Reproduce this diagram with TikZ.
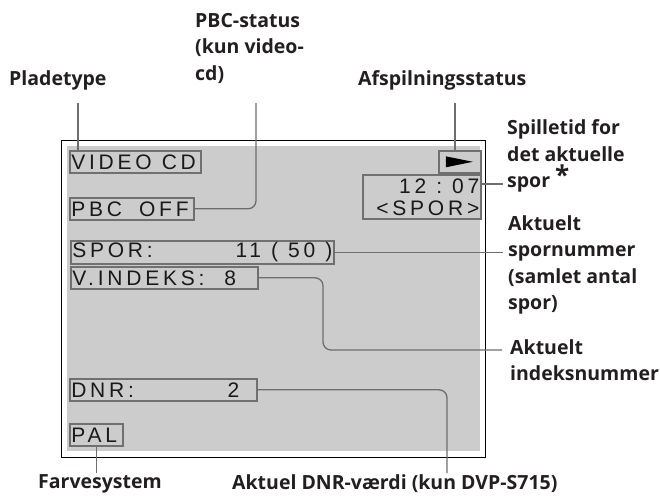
\documentclass[tikz,border=0pt]{standalone}
\usepackage{fontspec}
\setmainfont{Open Sans}
\newfontfamily\lcdfont[LetterSpace=18]{Liberation Sans}
\usepackage{tikz}
\usetikzlibrary{calc,positioning}
\usepackage{xcolor}
\definecolor{lcdgray}{HTML}{CCCCCC}
\definecolor{boxgray}{HTML}{707070}
\definecolor{linegray}{HTML}{6E6E6E}
\definecolor{labeltext}{HTML}{231F20}
\newcommand{\gap}{\hspace{10pt}}
\tikzset{
  screen/.style={draw=black,line width=0.9pt,fill=white},
  lcdbox/.style={draw=boxgray,line width=1.6pt,fill=lcdgray,anchor=north west,
    inner xsep=1.5pt,inner ysep=0pt,minimum height=22pt,align=left,
    font={\lcdfont\fontsize{21}{22}\selectfont},text=black!90},
  callout/.style={font={\bfseries\fontsize{19.5}{26.5}\selectfont},align=left,
    inner sep=0pt,anchor=west,text=labeltext},
  conn/.style={draw=linegray,line width=1.3pt,rounded corners=8pt}
}
\begin{document}
\begin{tikzpicture}[x=1pt,y=-1pt]
  \useasboundingbox (0,0) rectangle (660,496);
  \draw[screen] (61,140) rectangle (485,457);
  \fill[lcdgray] (67,146) rectangle (480,451);
  \node[lcdbox,text width=128pt] (vcd) at (69,150) {VIDEO\gap CD};
  \node[lcdbox,text width=121pt] (pbc) at (69,197) {PBC\hspace{17pt}OFF};
  \node[lcdbox,minimum width=42pt,text width=39pt] (play) at (438,150) {};
  \fill[black] ($(play.center)+(-14,-5.5)$) -- ($(play.center)+(13,0)$)
    -- ($(play.center)+(-14,5.5)$) -- cycle;
  \node[lcdbox,text width=115pt,minimum height=44pt,align=right] (time) at (362,174)
    {12\gap:\gap07\\{<}SPOR{>}};
  \node[lcdbox,text width=260pt,minimum height=23pt] (spor) at (70,240)
    {SPOR:\hfill 11\gap(\gap50\gap)};
  \node[lcdbox,text width=184pt] (vidx) at (70,266) {V.INDEKS:\hspace{20pt}8\hfill};
  \node[lcdbox,text width=184pt] (dnr) at (69,378) {DNR:\hfill 2\hspace*{16pt}};
  \node[lcdbox,text width=50pt] (pal) at (69,423) {PAL};

  \node[callout] (plade) at (9,80) {Pladetype};
  \node[callout] (pbcstat) at (195,48) {PBC-status\\(kun video-\\cd)};
  \node[callout] (afspil) at (358,80) {Afspilningsstatus};
  \node[callout] (spille) at (507,156) {Spilletid for\\det aktuelle\\spor\hspace{5pt}\raisebox{3pt}{\fontsize{26}{26}\selectfont *}};
  \node[callout] (aktspor) at (508,265) {Aktuelt\\spornummer\\(samlet antal\\spor)};
  \node[callout] (aktidx) at (510,360) {Aktuelt\\indeksnummer};
  \node[callout] (farve) at (38,484) {Farvesystem};
  \node[callout] (aktdnr) at (232,484) {Aktuel DNR-værdi (kun DVP-S715)};

  \coordinate (pladeEnd) at (78,103);
  \coordinate (pbcEnd) at (256,103);
  \coordinate (afspilEnd) at (455,103);
  \coordinate (spilleEnd) at (503,184);
  \coordinate (sporEnd) at (503,252);
  \coordinate (idxEnd) at (502,350);
  \coordinate (dnrEnd) at (447,473);
  \coordinate (farveEnd) at (95.5,473);
  \draw[conn] (pladeEnd) -- (pladeEnd |- vcd.north);
  \draw[conn] (pbcEnd) -- (pbcEnd |- pbc.east) -- (pbc.east);
  \draw[conn] (afspilEnd) -- (afspilEnd |- play.north);
  \draw[conn] (spilleEnd) -- (spilleEnd -| time.east);
  \draw[conn] (spor.east) -- (spor.east -| sporEnd);
  \draw[conn] (vidx.east) -- (vidx.east -| 323,0) -- (323,0 |- idxEnd) -- (idxEnd);
  \draw[conn] (dnr.east) -- (dnr.east -| dnrEnd) -- (dnrEnd);
  \draw[conn] (pal.south) -- (pal.south |- farveEnd);
\end{tikzpicture}
\end{document}
